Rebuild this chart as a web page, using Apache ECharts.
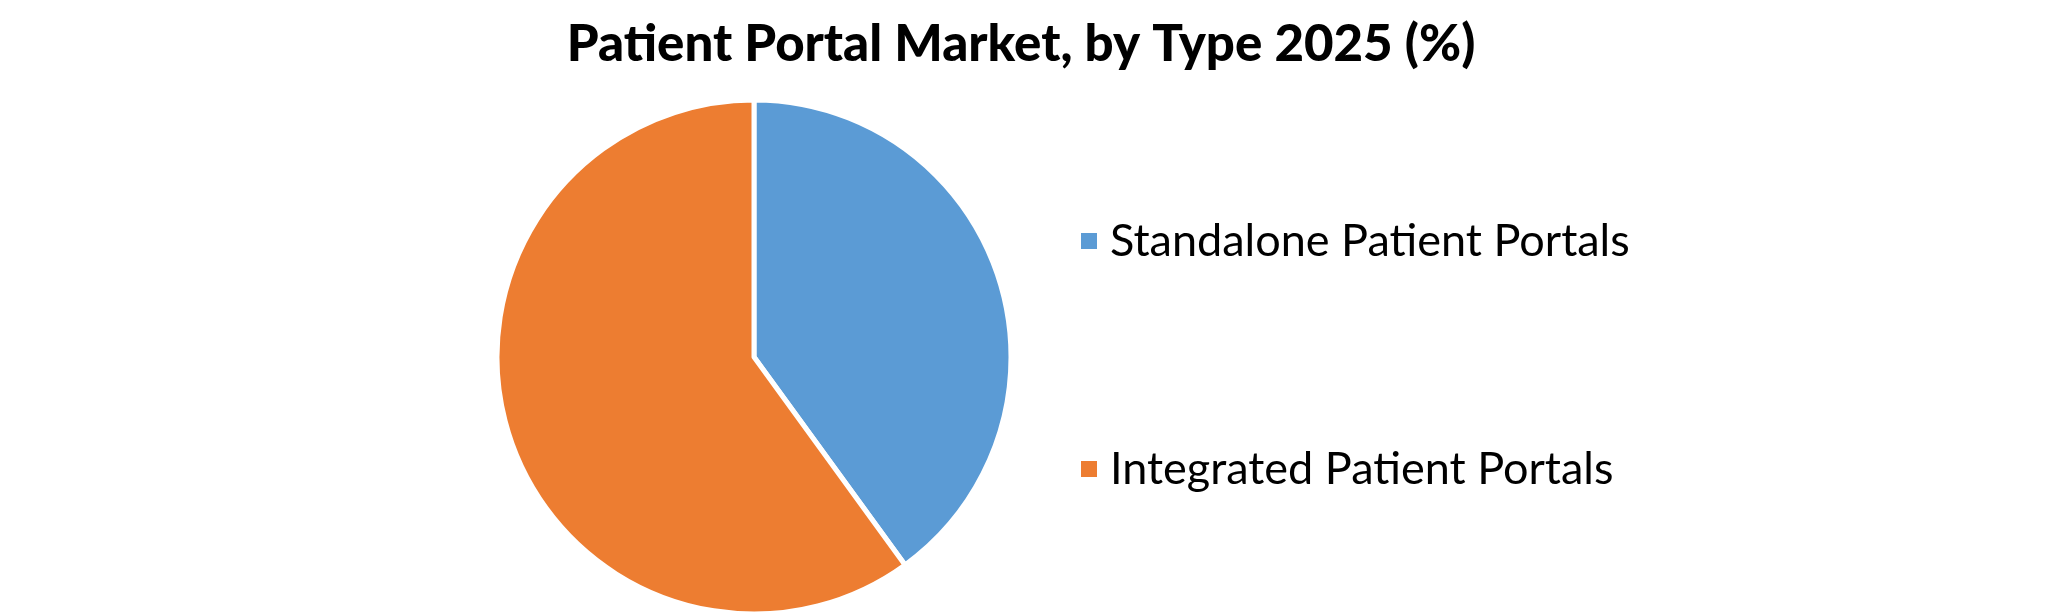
<!DOCTYPE html>
<html>
<head>
<meta charset="utf-8">
<script src="https://cdn.jsdelivr.net/npm/echarts@6/dist/echarts.min.js"></script>
<style>
  html, body { margin: 0; padding: 0; background: #fff; }
  #chart { width: 2068px; height: 614px; }
</style>
</head>
<body>
<div id="chart"></div>
<script>
const types = ['Standalone Patient Portals', 'Integrated Patient Portals']
const shares = [40, 60]
const colors = ['#5B9BD5', '#ED7D31']

let chart = echarts.init(document.getElementById('chart'))
let pieData = types.map((t, i) => {
  return {
    name: t,
    value: shares[i],
    itemStyle: { color: colors[i] },
  }
})
let options = {
  backgroundColor: '#fff',
  animation: false,
  title: {
    text: 'Patient Portal Market, by Type 2025 (%)',
    left: 1016,
    textAlign: 'center',
    top: 14,
    textStyle: {
      fontFamily: 'Lato',
      fontWeight: 900,
      fontSize: 51,
      color: '#000',
    },
  },
  legend: {
    orient: 'vertical',
    left: 1074,
    top: 211,
    icon: 'rect',
    itemWidth: 18,
    itemHeight: 18,
    itemGap: 178,
    textStyle: {
      fontFamily: 'Lato',
      fontSize: 45,
      lineHeight: 50,
      color: '#000',
      padding: [0, 0, 0, 7],
    },
    data: types,
  },
  series: [
    {
      type: 'pie',
      center: [754, 357],
      radius: 257,
      startAngle: 90,
      clockwise: true,
      label: { show: false },
      labelLine: { show: false },
      itemStyle: {
        borderColor: '#fff',
        borderWidth: 5,
      },
      emphasis: { disabled: true },
      data: pieData,
    },
  ],
}
chart.setOption(options)
</script>
</body>
</html>
